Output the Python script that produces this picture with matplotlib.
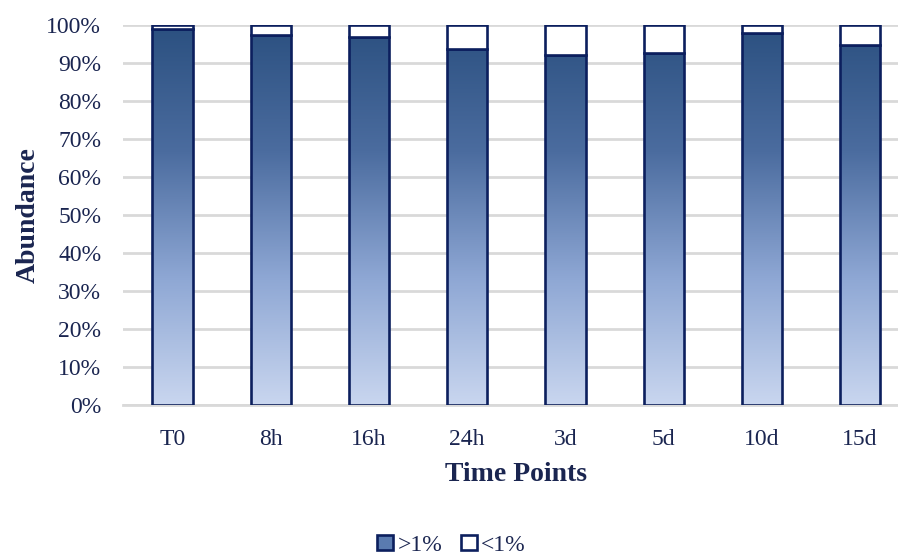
import matplotlib
matplotlib.use("Agg")
import matplotlib.pyplot as plt
import numpy as np
from matplotlib.colors import LinearSegmentedColormap
from matplotlib.patches import Patch

categories = ["T0", "8h", "16h", "24h", "3d", "5d", "10d", "15d"]
above_1pct = [98.8, 97.3, 96.8, 93.6, 92.0, 92.5, 97.8, 94.7]
below_1pct = [100 - v for v in above_1pct]
yticks = [0, 10, 20, 30, 40, 50, 60, 70, 80, 90, 100]
ytick_labels = [f"{t}%" for t in yticks]

navy = "#0c1f5e"
text_col = "#1a2550"
plt.rcParams['font.family'] = ['Liberation Serif', 'DejaVu Serif']

fig = plt.figure(figsize=(8.98, 5.54), dpi=100)
ax = fig.add_axes([0.1375, 0.269, 0.875, 0.6865])

x = np.arange(len(categories))
w = 0.41
cmap = LinearSegmentedColormap.from_list("g", ["#c9d6ef", "#8ea7d4", "#4b6c9f", "#2b5080"])

bars1 = ax.bar(x, above_1pct, w, facecolor="none", edgecolor=navy, linewidth=1.9, zorder=3)
bars2 = ax.bar(x, below_1pct, w, bottom=above_1pct, facecolor="white", edgecolor=navy,
               linewidth=1.9, zorder=3)
grad = np.linspace(0, 1, 256).reshape(-1, 1)
for b, v in zip(bars1, above_1pct):
    x0 = b.get_x()
    im = ax.imshow(grad, extent=[x0, x0 + w, 0, 100], origin="lower", cmap=cmap,
                   aspect="auto", zorder=2.5)
    im.set_clip_path(b)
ax.set_xlim(-0.5, len(categories) - 0.5)
ax.set_ylim(0, 100)
ax.set_yticks(yticks)
ax.set_yticklabels(ytick_labels)
ax.set_xticks(x)
ax.set_xticklabels(categories)
ax.yaxis.grid(True, color="#d9d9d9", linewidth=2)
ax.set_axisbelow(True)
for s in ["top", "right", "left"]:
    ax.spines[s].set_visible(False)
ax.spines["bottom"].set_color("#d9d9d9")
ax.spines["bottom"].set_linewidth(2)
ax.tick_params(axis="both", length=0, labelsize=17, colors=text_col)
ax.tick_params(axis="y", pad=16)
ax.tick_params(axis="x", pad=17)
ax.set_ylabel("Abundance", fontsize=20, fontweight="bold", color=text_col, labelpad=4)
ax.set_xlabel("Time Points", fontsize=20, fontweight="bold", color=text_col, labelpad=9)

handles = [Patch(facecolor="#5a7bb0", edgecolor=navy, linewidth=1.9, label=">1%"),
           Patch(facecolor="white", edgecolor=navy, linewidth=1.9, label="<1%")]
fig.legend(handles=handles, loc="center", bbox_to_anchor=(0.503, 0.016), ncol=2, frameon=False,
           fontsize=17, handlelength=0.65, handleheight=0.65, handletextpad=0.2, columnspacing=0.8,
           labelcolor=text_col)

fig.savefig("out.png", dpi=100)
